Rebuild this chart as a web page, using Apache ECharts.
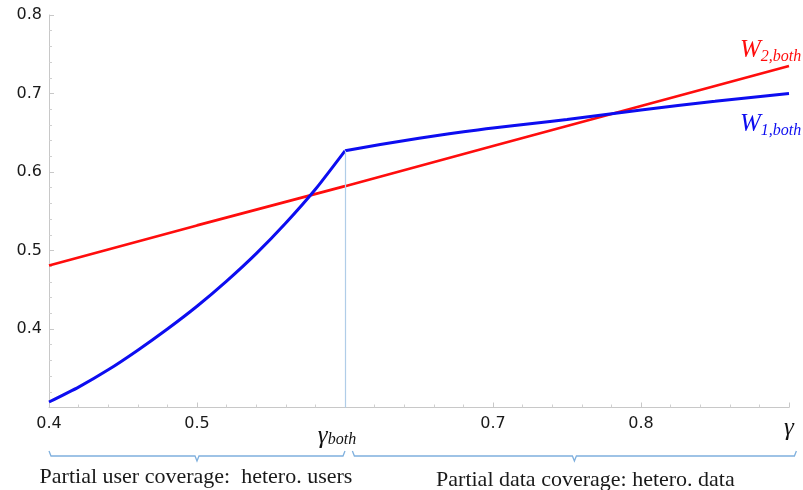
<!DOCTYPE html>
<html>
<head>
<meta charset="utf-8">
<script src="https://cdn.jsdelivr.net/npm/echarts@6/dist/echarts.min.js"></script>
<style>
  html, body { margin: 0; padding: 0; background: #fff; }
  #chart { width: 803px; height: 490px; }
</style>
</head>
<body>
<div id="chart"></div>
<script>
// W1,both below the threshold (partial user coverage)
const gammaLeft = [0.40, 0.42, 0.44, 0.46, 0.48, 0.50, 0.52, 0.54, 0.56, 0.58, 0.60]
const w1Left = [0.307, 0.326, 0.348, 0.373, 0.400, 0.429, 0.461, 0.496, 0.535, 0.578, 0.627]
// W1,both above the threshold (partial data coverage)
const gammaRight = [0.60, 0.65, 0.70, 0.75, 0.80, 0.85, 0.90]
const w1Right = [0.627, 0.643, 0.656, 0.667, 0.679, 0.690, 0.700]
// W2,both
const gammaRed = [0.4, 0.5, 0.6, 0.7, 0.8, 0.9]
const w2 = [0.481, 0.532, 0.582, 0.633, 0.684, 0.735]

const gammaBoth = 0.6
const braceLeft = [0.4, 0.6]
const braceRight = [0.605, 0.905]
const braceTexts = ['Partial user coverage:  hetero. users', 'Partial data coverage: hetero. data']

const serif = '"Liberation Serif", "DejaVu Serif", serif'
const sans = '"DejaVu Sans", "Liberation Sans", sans-serif'
const zip = (xs, ys) => xs.map((x, i) => [x, ys[i]])

const chart = echarts.init(document.getElementById('chart'))

chart.setOption({
  animation: false,
  grid: { left: 49, right: 14, top: 15, bottom: 82.5 },
  xAxis: {
    type: 'value',
    min: 0.4,
    max: 0.9,
    interval: 0.1,
    splitLine: { show: false },
    axisLine: { lineStyle: { color: '#c8c8c8', width: 1 } },
    axisTick: { inside: true, length: 5, lineStyle: { color: '#c8c8c8' } },
    minorTick: { show: true, splitNumber: 5, length: 3, lineStyle: { color: '#d0d0d0' } },
    axisLabel: {
      showMinLabel: true,
      showMaxLabel: true,
      margin: 8,
      color: '#1a1a1a',
      fontFamily: sans,
      fontSize: 16,
      formatter: (v) => {
        const r = Math.round(v * 10) / 10
        if (r === 0.6) return '{g|γ}{s|both}'
        if (r === 0.9) return '{gg|γ}'
        return r.toFixed(1)
      },
      rich: {
        g: { fontFamily: serif, fontStyle: 'italic', fontSize: 25, color: '#111', padding: [8, 0, 0, 0] },
        s: { fontFamily: serif, fontStyle: 'italic', fontSize: 16, color: '#111', padding: [16, 16, 0, 0] },
        gg: { fontFamily: serif, fontStyle: 'italic', fontSize: 25, color: '#111', padding: [0, 0, 10, 0] }
      }
    }
  },
  yAxis: {
    type: 'value',
    min: 0.3,
    max: 0.8,
    interval: 0.1,
    splitLine: { show: false },
    axisLine: { show: true, lineStyle: { color: '#c8c8c8', width: 1 } },
    axisTick: { show: true, inside: true, length: 5, lineStyle: { color: '#c8c8c8' } },
    minorTick: { show: true, splitNumber: 5, length: 3, lineStyle: { color: '#d0d0d0' } },
    axisLabel: {
      margin: 7,
      color: '#1a1a1a',
      fontFamily: sans,
      fontSize: 16,
      formatter: (v) => (Math.round(v * 10) === 3 ? '' : v.toFixed(1))
    }
  },
  series: [
    {
      name: 'W2',
      type: 'line',
      data: zip(gammaRed, w2),
      showSymbol: false,
      lineStyle: { color: '#ff0d0d', width: 2.6 },
      z: 3
    },
    {
      name: 'W1 left',
      type: 'line',
      data: zip(gammaLeft, w1Left),
      smooth: 0.2,
      showSymbol: false,
      lineStyle: { color: '#0d0df0', width: 3 },
      z: 4,
      markLine: {
        silent: true,
        symbol: 'none',
        label: { show: false },
        lineStyle: { color: '#b0cde8', width: 1.2, type: 'solid' },
        data: [[{ coord: [gammaBoth, 0.3] }, { coord: [gammaBoth, w1Left[w1Left.length - 1]] }]]
      }
    },
    {
      name: 'W1 right',
      type: 'line',
      data: zip(gammaRight, w1Right),
      smooth: true,
      showSymbol: false,
      lineStyle: { color: '#0d0df0', width: 3 },
      z: 4
    }
  ]
})

// braces and captions under the axis
const braceY = 456
const px = (g) => chart.convertToPixel({ gridIndex: 0 }, [g, 0.3])[0]
const brace = (a, b) => {
  const x0 = px(a)
  const x1 = px(b)
  const xc = (x0 + x1) / 2
  return {
    type: 'polyline',
    shape: {
      points: [
        [x0, braceY - 5], [x0 + 2, braceY], [xc - 2, braceY], [xc, braceY + 5],
        [xc + 2, braceY], [x1 - 2, braceY], [x1, braceY - 5]
      ]
    },
    style: { stroke: '#7fb0de', lineWidth: 1.3, fill: null }
  }
}
const caption = (a, b, txt, y, dx) => ({
  type: 'text',
  x: (px(a) + px(b)) / 2 + dx,
  y: y,
  style: { text: txt, font: '22px ' + serif, fill: '#1a1a1a', align: 'center', verticalAlign: 'middle' }
})
const wLabel = (sub, y, color) => ({
  type: 'text',
  x: 740,
  y: y,
  style: {
    text: '{w|W}{s|' + sub + '}',
    fill: color,
    verticalAlign: 'middle',
    rich: {
      w: { fontFamily: serif, fontStyle: 'italic', fontSize: 25, fill: color },
      s: { fontFamily: serif, fontStyle: 'italic', fontSize: 16, fill: color, padding: [13, 0, 0, 0] }
    }
  }
})

chart.setOption({
  graphic: [
    brace(braceLeft[0], braceLeft[1]),
    brace(braceRight[0], braceRight[1]),
    caption(braceLeft[0], braceLeft[1], braceTexts[0], 477, -1),
    caption(braceRight[0], braceRight[1], braceTexts[1], 480, 11),
    wLabel('2,both', 50, '#ff0d0d'),
    wLabel('1,both', 124, '#0d0df0')
  ]
})
</script>
</body>
</html>
